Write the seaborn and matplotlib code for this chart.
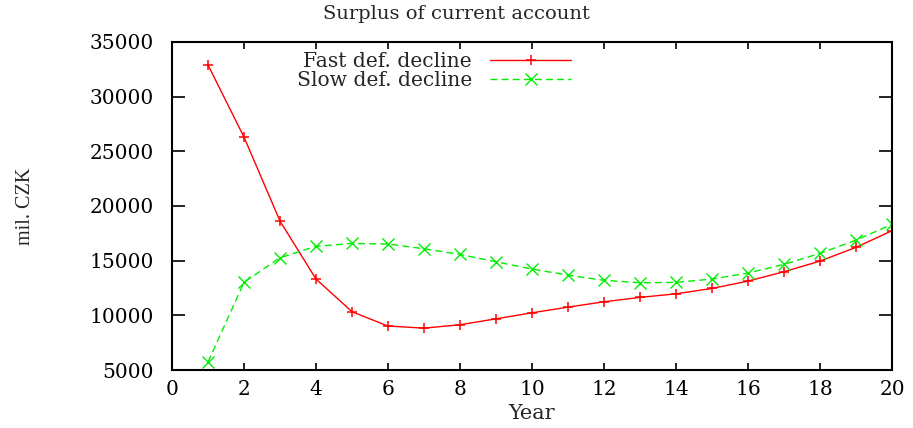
import matplotlib
matplotlib.use("Agg")
import matplotlib.pyplot as plt
import seaborn as sns
import pandas as pd

years = list(range(1, 21))
fast_decline = [32900, 26300, 18620, 13320, 10330, 9020, 8830, 9140, 9680, 10230,
                10750, 11240, 11640, 11970, 12460, 13130, 13990, 14960, 16220, 17740]
slow_decline = [5720, 13020, 15270, 16310, 16580, 16520, 16090, 15570, 14900, 14230,
                13680, 13200, 12980, 13010, 13320, 13870, 14660, 15670, 16880, 18320]
labels = ["Fast def. decline", "Slow def. decline"]
x_ticks = list(range(0, 21, 2))
y_ticks = list(range(5000, 35001, 5000))

RED = "#ff0000"
GREEN = "#00ee00"

sns.set_theme(style="ticks")
plt.rcParams["font.family"] = ["DejaVu Serif", "Liberation Serif"]

fig = plt.figure(figsize=(9.13, 4.28), dpi=100)
ax = fig.add_axes([0.1884, 0.1355, 0.7886, 0.7664])

df = pd.DataFrame({"year": years, "fast": fast_decline, "slow": slow_decline})
sns.lineplot(data=df, x="year", y="fast", ax=ax, color=RED, lw=1.0,
             marker="+", markersize=7.5, markeredgewidth=1.1,
             markeredgecolor=RED, label=labels[0])
sns.lineplot(data=df, x="year", y="slow", ax=ax, color=GREEN, lw=1.0,
             linestyle=(0, (5, 3)), marker="x", markersize=8.5,
             markeredgewidth=1.0, markeredgecolor=GREEN, label=labels[1])

ax.set_xlim(0, 20)
ax.set_ylim(5000, 35000)
ax.set_xticks(x_ticks)
ax.set_yticks(y_ticks)
ax.tick_params(direction="in", width=1.2, top=True, right=True,
               labelsize=14.5, colors="black")
ax.tick_params(axis="x", length=5, pad=7)
ax.tick_params(axis="y", length=9.5, pad=13)
for s in ax.spines.values():
    s.set_linewidth(1.5)
    s.set_color("black")
    s.set_visible(True)

ax.set_xlabel("Year", fontsize=15, labelpad=4)
ax.set_ylabel("mil. CZK", fontsize=14.5, family=["Liberation Serif"], labelpad=0)
ax.yaxis.set_label_coords(-0.19, 0.5)
fig.text(0.5, 1 - 14 / 428, "Surplus of current account", fontsize=14,
         ha="center", va="center")

leg = ax.legend(loc="center", bbox_to_anchor=((434 - 172) / 720, 0.912),
                frameon=False, markerfirst=False, fontsize=14.6,
                handlelength=4.0, labelspacing=0.0, handletextpad=0.9,
                borderpad=0, borderaxespad=0)

fig.savefig("out.png", dpi=100)
